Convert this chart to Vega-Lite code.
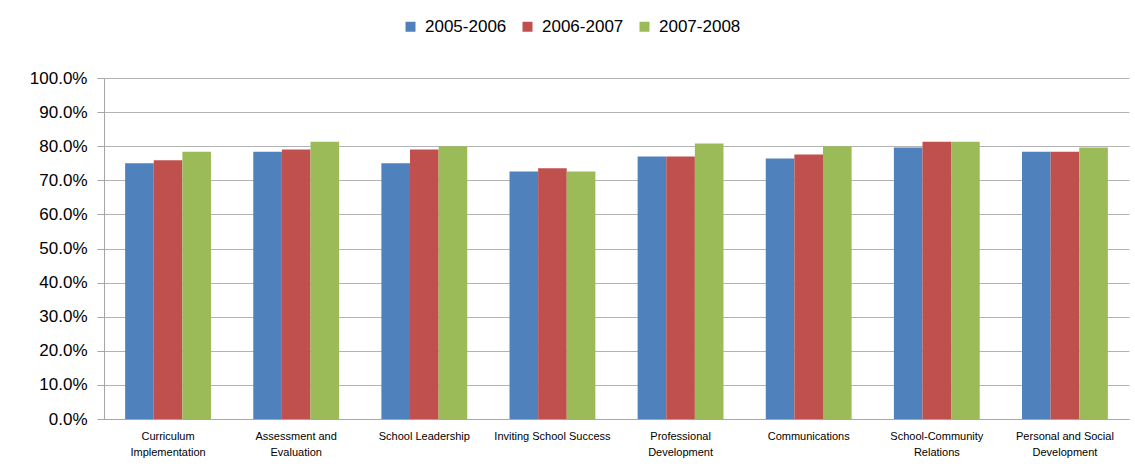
{
  "$schema": "https://vega.github.io/schema/vega-lite/v6.json",
  "autosize": {"type": "none"},
  "width": 1025,
  "height": 341,
  "padding": {"left": 104, "top": 78, "right": 6, "bottom": 51},
  "background": "white",
  "config": {
    "font": "Liberation Sans",
    "view": {"stroke": null},
    "axis": {"labelColor": "#000000", "domainColor": "#a6a6a6", "tickColor": "#a6a6a6", "gridColor": "#b3b3b3", "gridWidth": 1.2}
  },
  "data": {
    "values": [
      {"category": "Curriculum Implementation", "year": "2005-2006", "value": 0.750},
      {"category": "Curriculum Implementation", "year": "2006-2007", "value": 0.759},
      {"category": "Curriculum Implementation", "year": "2007-2008", "value": 0.784},
      {"category": "Assessment and Evaluation", "year": "2005-2006", "value": 0.784},
      {"category": "Assessment and Evaluation", "year": "2006-2007", "value": 0.790},
      {"category": "Assessment and Evaluation", "year": "2007-2008", "value": 0.813},
      {"category": "School Leadership", "year": "2005-2006", "value": 0.750},
      {"category": "School Leadership", "year": "2006-2007", "value": 0.790},
      {"category": "School Leadership", "year": "2007-2008", "value": 0.800},
      {"category": "Inviting School Success", "year": "2005-2006", "value": 0.726},
      {"category": "Inviting School Success", "year": "2006-2007", "value": 0.735},
      {"category": "Inviting School Success", "year": "2007-2008", "value": 0.726},
      {"category": "Professional Development", "year": "2005-2006", "value": 0.770},
      {"category": "Professional Development", "year": "2006-2007", "value": 0.770},
      {"category": "Professional Development", "year": "2007-2008", "value": 0.808},
      {"category": "Communications", "year": "2005-2006", "value": 0.764},
      {"category": "Communications", "year": "2006-2007", "value": 0.776},
      {"category": "Communications", "year": "2007-2008", "value": 0.800},
      {"category": "School-Community Relations", "year": "2005-2006", "value": 0.796},
      {"category": "School-Community Relations", "year": "2006-2007", "value": 0.813},
      {"category": "School-Community Relations", "year": "2007-2008", "value": 0.813},
      {"category": "Personal and Social Development", "year": "2005-2006", "value": 0.784},
      {"category": "Personal and Social Development", "year": "2006-2007", "value": 0.784},
      {"category": "Personal and Social Development", "year": "2007-2008", "value": 0.796}
    ]
  },
  "mark": {"type": "bar"},
  "encoding": {
    "x": {
      "field": "category",
      "type": "nominal",
      "sort": null,
      "scale": {"paddingInner": 0.33, "paddingOuter": 0.165},
      "axis": {
        "title": null,
        "labelAngle": 0,
        "labelFontSize": 11,
        "labelLineHeight": 16,
        "labelPadding": 11,
        "ticks": false,
        "labelLimit": 200,
        "labelExpr": "indexof(['School Leadership','Inviting School Success','Communications'], datum.value) >= 0 ? datum.value : [substring(datum.value, 0, lastindexof(datum.value, ' ')), substring(datum.value, lastindexof(datum.value, ' ') + 1)]"
      }
    },
    "xOffset": {"field": "year", "type": "nominal"},
    "y": {
      "field": "value",
      "type": "quantitative",
      "scale": {"domain": [0, 1], "nice": false},
      "axis": {
        "title": null,
        "format": ".1%",
        "values": [0, 0.1, 0.2, 0.3, 0.4, 0.5, 0.6, 0.7, 0.8, 0.9, 1.0],
        "labelFontSize": 17,
        "labelPadding": 10,
        "tickSize": 7,
        "grid": true
      }
    },
    "color": {
      "field": "year",
      "type": "nominal",
      "scale": {"domain": ["2005-2006", "2006-2007", "2007-2008"], "range": ["#4F81BD", "#C0504D", "#9BBB59"]},
      "legend": {
        "title": null,
        "orient": "none",
        "direction": "horizontal",
        "legendX": 298,
        "legendY": -60,
        "symbolType": "square",
        "symbolSize": 100,
        "labelFontSize": 17,
        "labelColor": "#000000",
        "labelOffset": 6,
        "columnPadding": 12
      }
    }
  }
}
